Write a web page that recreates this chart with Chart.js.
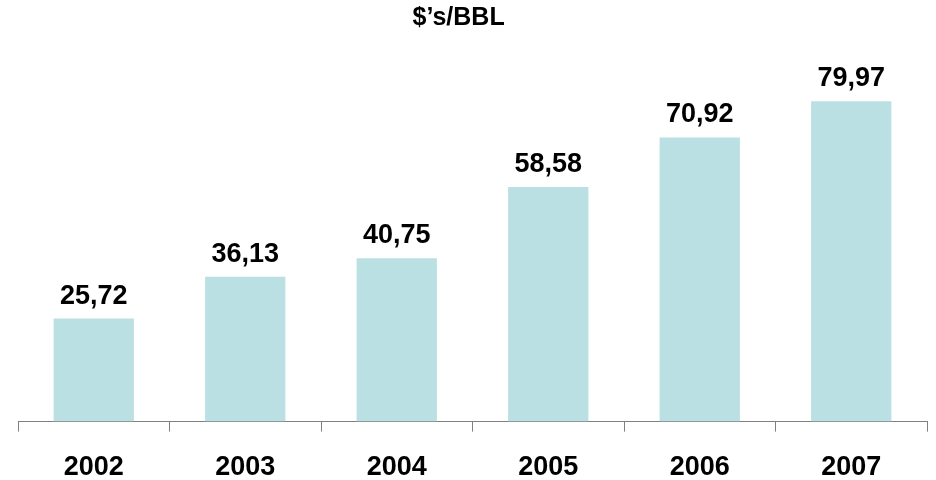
<!DOCTYPE html>
<html>
<head>
<meta charset="utf-8">
<script src="https://cdn.jsdelivr.net/npm/chart.js@4/dist/chart.umd.min.js"></script>
<style>
  html, body { margin: 0; padding: 0; background: #fff; }
  #wrap { width: 936px; height: 480px; }
</style>
</head>
<body>
<div id="wrap"><canvas id="grafica"></canvas></div>
<script>
// datos
const anios = ["2002", "2003", "2004", "2005", "2006", "2007"];
const precios = [25.72, 36.13, 40.75, 58.58, 70.92, 79.97];

const fuente = "'Liberation Sans', Arial, sans-serif";

// etiquetas encima de cada barra, con coma decimal
const etiquetasBarras = {
    id: "etiquetasBarras",
    afterDatasetsDraw(chart) {
        const ctx = chart.ctx;
        const meta = chart.getDatasetMeta(0);
        ctx.save();
        ctx.font = "bold 27px " + fuente;
        ctx.fillStyle = "#000";
        ctx.textAlign = "center";
        ctx.textBaseline = "alphabetic";
        meta.data.forEach((barra, i) => {
            const texto = precios[i].toFixed(2).replace(".", ",");
            ctx.fillText(texto, barra.x, barra.y - 15);
        });
        ctx.restore();
    }
};

const config = {
    type: "bar",
    data: {
        labels: anios,
        datasets: [{
            data: precios,
            backgroundColor: "#bbe0e3",
            borderWidth: 0,
            categoryPercentage: 1,
            barPercentage: 0.53,
        }],
    },
    options: {
        responsive: true,
        maintainAspectRatio: false,
        animation: false,
        layout: { padding: { left: 18, right: 9, top: 0, bottom: -24 } },
        plugins: {
            legend: { display: false },
            tooltip: { enabled: false },
            title: {
                display: true,
                // los espacios del final corren el titulo un poco a la izquierda
                text: "$\u2019s/BBL\u00a0\u00a0\u00a0\u00a0",
                color: "#000",
                font: { family: fuente, size: 25, weight: "bold" },
                padding: { top: 3, bottom: 30 },
            },
        },
        scales: {
            x: {
                grid: {
                    display: true,
                    drawOnChartArea: false,
                    drawTicks: true,
                    tickLength: 10,
                    offset: true,
                    color: "#808080",
                },
                border: { display: true, color: "#808080", width: 1 },
                ticks: {
                    color: "#000",
                    padding: 20,
                    font: { family: fuente, size: 27, weight: "bold" },
                },
            },
            y: {
                display: false,
                min: 0,
                max: 89.5,
            },
        },
    },
    plugins: [etiquetasBarras],
};

const miGrafica = new Chart(document.getElementById("grafica"), config);
</script>
</body>
</html>
